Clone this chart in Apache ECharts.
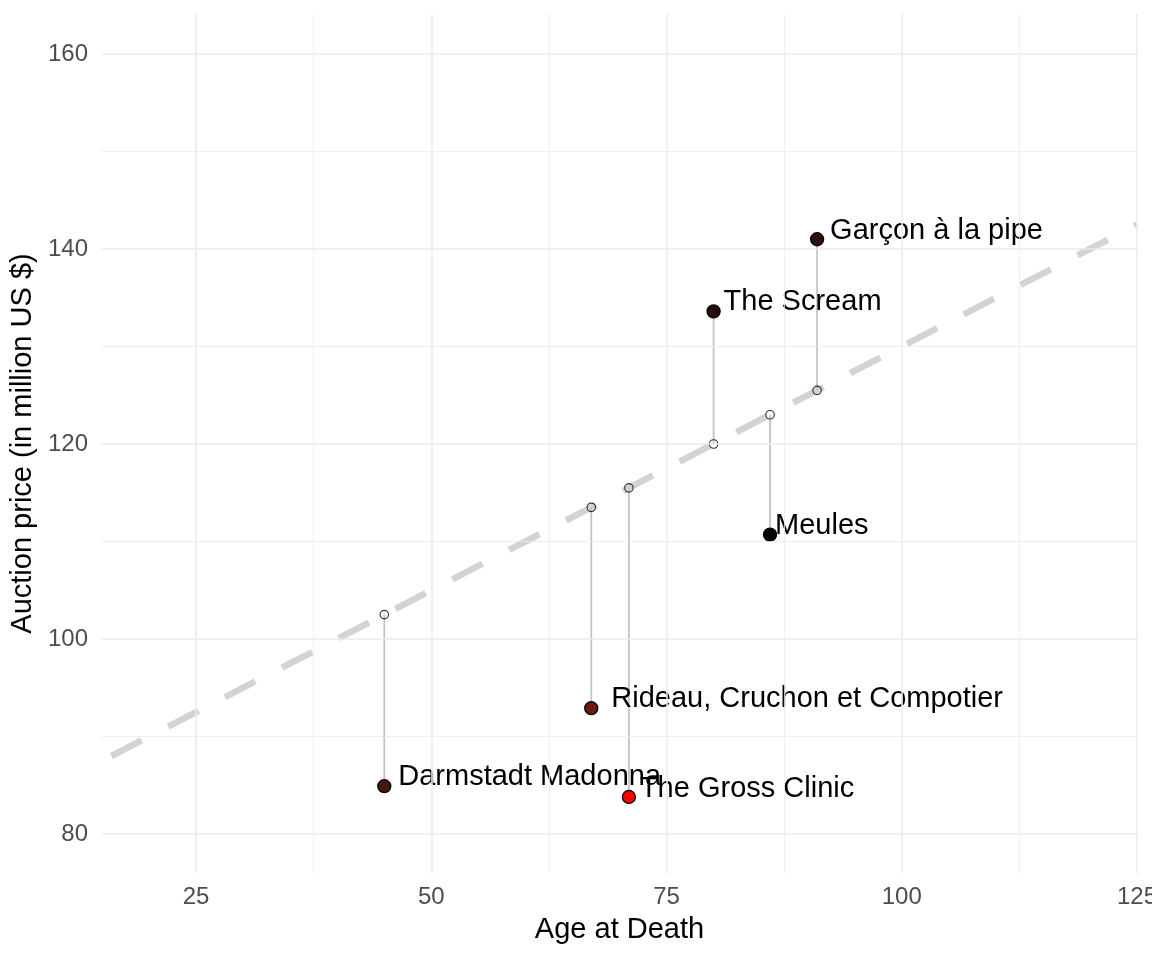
<!DOCTYPE html>
<html>
<head>
<meta charset="utf-8">
<title>Auction price vs age at death</title>
<script src="https://cdn.jsdelivr.net/npm/echarts@6/dist/echarts.min.js"></script>
<style>
    html, body { margin: 0; padding: 0; background: #fff; }
    #chart { width: 1152px; height: 960px; }
</style>
</head>
<body>
<div id="chart"></div>
<script>
// ---- data ----
const paintings = ['Darmstadt Madonna', 'Rideau, Cruchon et Compotier', 'The Gross Clinic', 'The Scream', 'Meules', 'Garçon à la pipe'];
const ageAtDeath = [45, 67, 71, 80, 86, 91];
const auctionPrice = [84.9, 92.9, 83.8, 133.6, 110.7, 141.0];
const fittedPrice = [102.5, 113.5, 115.5, 120.0, 123.0, 125.5];
const pointColors = ['#45180f', '#6b1a12', '#ff0000', '#24100a', '#000000', '#2a1008'];

const trendAge = [16, 125];
const trendPrice = [88, 142.5];

const xMajorTicks = [25, 50, 75, 100, 125];
const xMinorTicks = [37.5, 62.5, 87.5, 112.5];
const yMajorTicks = [80, 100, 120, 140, 160];
const yMinorTicks = [90, 110, 130, 150];

// label nudges in px (dx from point centre, dy), layout only
const labelNudge = [[14, -9], [20, -9], [11, -8], [10, -9], [5, -9], [13, -8]];

const FONT = '"Liberation Sans", Arial, sans-serif';
const GRID_COLOR = '#ebebeb';

const chart = echarts.init(document.getElementById('chart'), null, { renderer: 'canvas' });

function gridLines(axisKey, values, width) {
    return values.map(v => ({
        [axisKey]: v,
        lineStyle: { color: GRID_COLOR, width: width, type: 'solid' }
    }));
}

const option = {
    animation: false,
    backgroundColor: '#ffffff',
    grid: { left: 102, right: 15, top: 14, bottom: 87, containLabel: false, outerBoundsMode: 'none' },
    xAxis: {
        type: 'value',
        min: 15,
        max: 125,
        name: 'Age at Death',
        nameLocation: 'middle',
        nameGap: 42,
        nameTextStyle: { color: '#000', fontSize: 29, fontFamily: FONT, verticalAlign: 'top' },
        axisLine: { show: false },
        axisTick: { show: false, customValues: xMajorTicks },
        splitLine: { show: false },
        axisLabel: {
            customValues: xMajorTicks,
            color: '#4d4d4d',
            fontSize: 24,
            fontFamily: FONT,
            margin: 12
        }
    },
    yAxis: {
        type: 'value',
        min: 76,
        max: 164.1,
        name: 'Auction price (in million US $)',
        nameLocation: 'middle',
        nameGap: 50,
        nameTextStyle: { color: '#000', fontSize: 29, fontFamily: FONT },
        axisLine: { show: false },
        axisTick: { show: false, customValues: yMajorTicks },
        splitLine: { show: false },
        axisLabel: {
            customValues: yMajorTicks,
            color: '#4d4d4d',
            fontSize: 24,
            fontFamily: FONT,
            margin: 14
        }
    },
    series: [
        {
            // panel grid
            name: 'grid',
            type: 'line',
            data: [[15, 76]],
            symbol: 'none',
            silent: true,
            z: 0,
            lineStyle: { opacity: 0 },
            markLine: {
                silent: true,
                symbol: ['none', 'none'],
                label: { show: false },
                emphasis: { disabled: true },
                data: [
                    ...gridLines('xAxis', xMinorTicks, 0.8),
                    ...gridLines('yAxis', yMinorTicks, 0.8),
                    ...gridLines('xAxis', xMajorTicks, 1.6),
                    ...gridLines('yAxis', yMajorTicks, 1.6)
                ]
            }
        },
        {
            name: 'trend',
            type: 'line',
            data: trendAge.map((a, i) => [a, trendPrice[i]]),
            symbol: 'none',
            silent: true,
            z: 1,
            lineStyle: { color: '#d3d3d3', width: 6.5, type: [34, 30], cap: 'butt' }
        },
        {
            name: 'residual',
            type: 'custom',
            silent: true,
            z: 2,
            data: ageAtDeath.map((a, i) => [a, auctionPrice[i], fittedPrice[i]]),
            renderItem: function (params, api) {
                const p1 = api.coord([api.value(0), api.value(1)]);
                const p2 = api.coord([api.value(0), api.value(2)]);
                return {
                    type: 'line',
                    shape: { x1: p1[0], y1: p1[1], x2: p2[0], y2: p2[1] },
                    style: { stroke: '#c4c4c4', lineWidth: 1.8 }
                };
            }
        },
        {
            name: 'fitted',
            type: 'scatter',
            silent: true,
            z: 3,
            symbol: 'circle',
            symbolSize: 8.5,
            data: ageAtDeath.map((a, i) => [a, fittedPrice[i]]),
            itemStyle: { color: 'rgba(0,0,0,0)', borderColor: '#000', borderWidth: 1.1 }
        },
        {
            name: 'price',
            type: 'scatter',
            silent: true,
            z: 4,
            symbol: 'circle',
            symbolSize: 13,
            data: ageAtDeath.map((a, i) => ({
                value: [a, auctionPrice[i]],
                itemStyle: { color: pointColors[i] },
                label: { offset: labelNudge[i] }
            })),
            itemStyle: { borderColor: '#000', borderWidth: 1.3, opacity: 1 },
            label: {
                show: true,
                position: 'inside',
                align: 'left',
                verticalAlign: 'middle',
                formatter: p => paintings[p.dataIndex],
                color: '#000',
                fontSize: 29,
                fontFamily: FONT
            }
        }
    ]
};

chart.setOption(option);
</script>
</body>
</html>
